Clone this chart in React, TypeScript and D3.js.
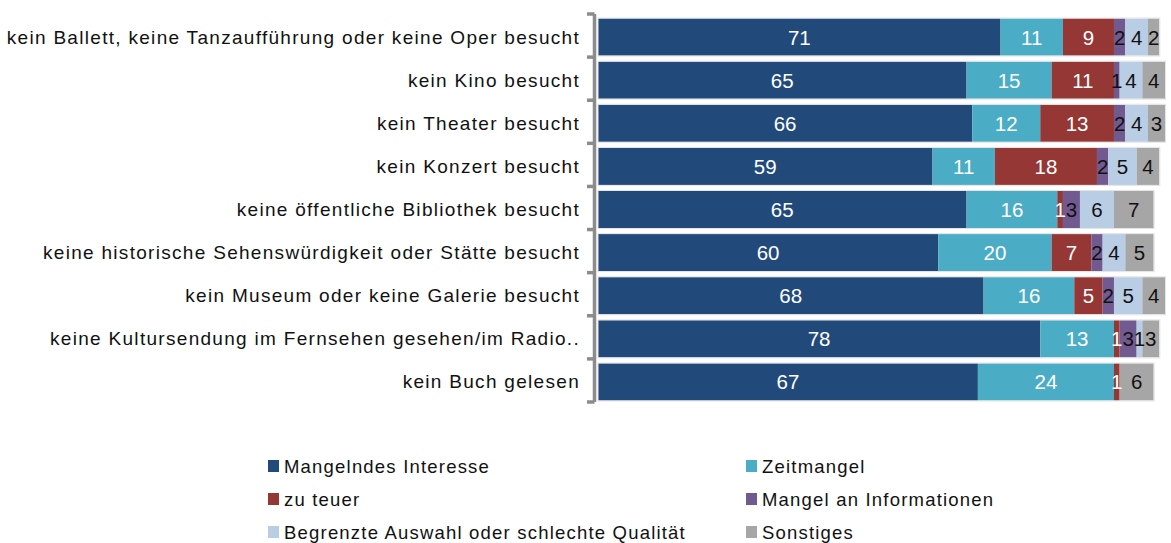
import React, { useEffect, useRef } from "react";
import * as d3 from "d3";

const categories = [
  "kein Ballett, keine Tanzaufführung oder keine Oper besucht",
  "kein Kino besucht",
  "kein Theater besucht",
  "kein Konzert besucht",
  "keine öffentliche Bibliothek besucht",
  "keine historische Sehenswürdigkeit oder Stätte besucht",
  "kein Museum oder keine Galerie besucht",
  "keine Kultursendung im Fernsehen gesehen/im Radio..",
  "kein Buch gelesen",
];

const seriesNames = [
  "Mangelndes Interesse",
  "Zeitmangel",
  "zu teuer",
  "Mangel an Informationen",
  "Begrenzte Auswahl oder schlechte Qualität",
  "Sonstiges",
];

const mangelndesInteresse = [71, 65, 66, 59, 65, 60, 68, 78, 67];
const zeitmangel = [11, 15, 12, 11, 16, 20, 16, 13, 24];
const zuTeuer = [9, 11, 13, 18, 1, 7, 5, 1, 1];
const mangelAnInformationen = [2, 1, 2, 2, 3, 2, 2, 3, 0];
const begrenzteAuswahl = [4, 4, 4, 5, 6, 4, 5, 1, 0];
const sonstiges = [2, 4, 3, 4, 7, 5, 4, 3, 6];

const seriesValues = [
  mangelndesInteresse,
  zeitmangel,
  zuTeuer,
  mangelAnInformationen,
  begrenzteAuswahl,
  sonstiges,
];

const colors = ["#214a7b", "#4bacc6", "#953735", "#715a90", "#b9cde5", "#a6a6a6"];
const labelColors = ["#ffffff", "#ffffff", "#ffffff", "#111111", "#111111", "#111111"];

const FONT = "'Liberation Sans', Arial, sans-serif";

export default function App() {
  const ref = useRef<SVGSVGElement>(null);

  useEffect(() => {
    const svg = d3.select(ref.current);
    svg.selectAll("*").remove();

    const x = d3.scaleLinear().domain([0, 100]).range([598, 1165]);
    const y = d3.scaleBand<string>().domain(categories).range([14, 402]).paddingInner(0.14).paddingOuter(0.07);

    const rows = categories.map((c, i) => {
      const vals = seriesValues.map((s) => s[i]);
      let acc = 0;
      const segs = vals.map((v, k) => {
        const s = { k, x0: acc, x1: acc + v, v };
        acc += v;
        return s;
      });
      return { c, segs, total: acc };
    });

    const g = svg.append("g");
    const barOffset = 1.5;

    rows.forEach((r) => {
      const yy = (y(r.c) as number) + barOffset;
      const h = y.bandwidth();
      r.segs.forEach((s) => {
        if (s.v <= 0) return;
        g.append("rect")
          .attr("x", x(s.x0))
          .attr("y", yy)
          .attr("width", x(s.x1) - x(s.x0))
          .attr("height", h)
          .attr("fill", colors[s.k]);
      });
      g.append("rect")
        .attr("x", x(0))
        .attr("y", yy - 0.5)
        .attr("width", x(r.total) - x(0) + 0.5)
        .attr("height", h + 1)
        .attr("fill", "none")
        .attr("stroke", "#e4e4e4")
        .attr("stroke-width", 1);
      r.segs.forEach((s) => {
        if (s.v <= 0) return;
        g.append("text")
          .attr("x", (x(s.x0) + x(s.x1)) / 2)
          .attr("y", yy + h / 2 + 7.5)
          .attr("text-anchor", "middle")
          .attr("font-family", FONT)
          .attr("font-size", 20.5)
          .attr("fill", labelColors[s.k])
          .text(String(s.v));
      });
    });

    // axis
    const axisX = 594.5;
    const ag = svg.append("g");
    ag.append("line")
      .attr("x1", axisX)
      .attr("x2", axisX)
      .attr("y1", 14)
      .attr("y2", 402)
      .attr("stroke", "#8c8c8c")
      .attr("stroke-width", 3.5);
    const tickPos = d3.range(categories.length + 1).map((i) => 14 + i * y.step());
    tickPos.forEach((t) => {
      ag.append("line")
        .attr("x1", 587)
        .attr("x2", axisX)
        .attr("y1", Math.min(402, t))
        .attr("y2", Math.min(402, t))
        .attr("stroke", "#8c8c8c")
        .attr("stroke-width", 3.5);
    });

    categories.forEach((c) => {
      ag.append("text")
        .attr("x", 580)
        .attr("y", (y(c) as number) + barOffset + y.bandwidth() / 2 + 6.5)
        .attr("text-anchor", "end")
        .attr("font-family", FONT)
        .attr("font-size", 19)
        .attr("letter-spacing", 1.3)
        .attr("fill", "#111")
        .text(c);
    });

    // legend
    const lg = svg.append("g");
    const colX = [268, 746];
    const rowY = [460, 493, 526];
    seriesNames.forEach((name, i) => {
      const cx = colX[i % 2];
      const ry = rowY[Math.floor(i / 2)];
      lg.append("rect").attr("x", cx).attr("y", ry).attr("width", 11).attr("height", 12).attr("fill", colors[i]);
      lg.append("text")
        .attr("x", cx + 16)
        .attr("y", ry + 12.5)
        .attr("font-family", FONT)
        .attr("font-size", 18.5)
        .attr("letter-spacing", 1.2)
        .attr("fill", "#111")
        .text(name);
    });
  }, []);

  return (
    <svg
      ref={ref}
      width={1171}
      height={543}
      style={{ position: "absolute", left: 0, top: 0, background: "#fff" }}
    />
  );
}
